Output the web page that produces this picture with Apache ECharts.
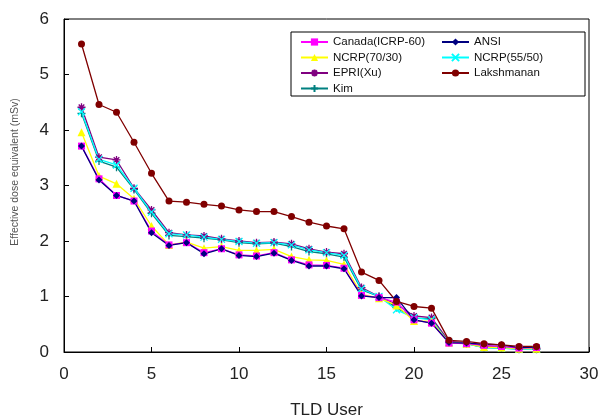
<!DOCTYPE html>
<html><head><meta charset="utf-8">
<script src="https://cdn.jsdelivr.net/npm/echarts@6/dist/echarts.min.js"></script>
<style>html,body{margin:0;padding:0;background:#fff}#c{width:602px;height:418px}</style>
</head><body><div id="c"></div>
<script>
const users = [1,2,3,4,5,6,7,8,9,10,11,12,13,14,15,16,17,18,19,20,21,22,23,24,25,26,27];
const canada = [3.71,3.12,2.82,2.72,2.18,1.93,1.97,1.79,1.86,1.75,1.73,1.79,1.66,1.57,1.56,1.51,1.02,0.98,0.90,0.58,0.52,0.16,0.15,0.12,0.10,0.07,0.08];
const ansi = [3.71,3.10,2.82,2.72,2.15,1.92,1.97,1.77,1.86,1.74,1.72,1.78,1.65,1.55,1.55,1.50,1.01,0.98,0.98,0.58,0.52,0.17,0.16,0.14,0.13,0.08,0.09];
const ncrp7030 = [3.96,3.17,3.03,2.76,2.27,1.93,1.98,1.87,1.90,1.83,1.83,1.85,1.72,1.66,1.65,1.58,1.04,0.97,0.84,0.56,0.55,0.17,0.15,0.09,0.08,0.06,0.06];
const ncrp5550 = [4.33,3.47,3.37,2.95,2.52,2.13,2.11,2.07,2.03,1.99,1.96,1.97,1.93,1.84,1.79,1.74,1.14,1.00,0.76,0.62,0.58,0.17,0.15,0.08,0.07,0.05,0.05];
const epri = [4.41,3.51,3.46,2.95,2.56,2.15,2.11,2.09,2.04,2.00,1.97,1.98,1.95,1.86,1.80,1.77,1.16,1.00,0.86,0.65,0.62,0.19,0.17,0.10,0.09,0.06,0.07];
const lakshmanan = [5.55,4.46,4.32,3.78,3.22,2.72,2.70,2.66,2.63,2.56,2.53,2.53,2.44,2.34,2.27,2.22,1.44,1.29,0.91,0.82,0.79,0.21,0.19,0.15,0.13,0.10,0.10];
const kim = [4.30,3.44,3.33,2.93,2.50,2.10,2.08,2.05,2.02,1.97,1.95,1.96,1.90,1.81,1.77,1.71,1.12,1.00,0.80,0.61,0.60,0.17,0.15,0.08,0.07,0.05,0.05];
const xTicks = [0,5,10,15,20,25,30];
const yTicks = [0,1,2,3,4,5,6];

const FONT = 'Liberation Sans';
const star = 'path://M5,0L5,10M0,5L10,5M1.5,1.5L8.5,8.5M8.5,1.5L1.5,8.5';
const cross = 'path://M0,0L10,10M10,0L0,10';
const plus = 'path://M5,0L5,10M0,5L10,5';

function mk(name, vals, color, symbol, size, stroke){
  return {
    name, type:'line', data: users.map((u,i)=>[u, vals[i]]),
    symbol, symbolSize:size,
    lineStyle:{color, width:1.3},
    itemStyle:{color: color, borderColor: color, borderWidth: stroke ? 1.3 : 0},
    emphasis:{disabled:true}, animation:false, z:2
  };
}
const series = [
  mk('Kim', kim, '#008080', plus, 8, true),
  mk('EPRI(Xu)', epri, '#800080', star, 8, true),
  mk('NCRP(55/50)', ncrp5550, '#00FFFF', cross, 7, true),
  mk('NCRP(70/30)', ncrp7030, '#FFFF00', 'triangle', 8, false),
  mk('Canada(ICRP-60)', canada, '#FF00FF', 'rect', 7, false),
  mk('ANSI', ansi, '#000080', 'diamond', 7, false),
  mk('Lakshmanan', lakshmanan, '#800000', 'circle', 7, false)
];

const legendCommon = {
  orient:'vertical', itemWidth:27, itemHeight:9, itemGap:3.5,
  textStyle:{fontFamily:FONT, fontSize:11.5, color:'#111'},
  padding:0
};
const chart = echarts.init(document.getElementById('c'), null, {renderer:'canvas'});
chart.setOption({
  backgroundColor:'#fff',
  animation:false,
  grid:{left:64, right:13, top:19, bottom:66, show:true, borderColor:'#000', borderWidth:1, containLabel:false, outerBoundsMode:'none'},
  xAxis:{type:'value', min:0, max:30, interval:5,
    name:'TLD User', nameLocation:'middle', nameGap:50,
    nameTextStyle:{fontFamily:FONT, fontSize:17, color:'#222'},
    axisLine:{lineStyle:{color:'#000'}}, axisTick:{inside:true, length:5, lineStyle:{color:'#000'}},
    axisLabel:{margin:14, fontFamily:FONT, fontSize:17, color:'#222', customValues: xTicks},
    splitLine:{show:false}},
  yAxis:{type:'value', min:0, max:6, interval:1,
    axisLine:{show:true, lineStyle:{color:'#000'}}, axisTick:{show:true, inside:true, length:5, lineStyle:{color:'#000'}},
    axisLabel:{margin:15, fontFamily:FONT, fontSize:17, color:'#222', customValues: yTicks},
    splitLine:{show:false}},
  legend:[
    Object.assign({left:300, top:36, data:['Canada(ICRP-60)','NCRP(70/30)','EPRI(Xu)','Kim']}, legendCommon),
    Object.assign({left:441, top:36, data:['ANSI','NCRP(55/50)','Lakshmanan']}, legendCommon)
  ],
  graphic:[
    {type:'rect', shape:{x:291, y:32, width:294, height:64}, style:{fill:'none', stroke:'#000', lineWidth:1}, z:1},
    {type:'text', x:15, y:172, rotation:Math.PI/2,
      style:{text:'Effective dose equivalent (mSv)', fontFamily:FONT, fontSize:10.5, fill:'#555', align:'center', verticalAlign:'middle'}}
  ],
  series
});
</script></body></html>
